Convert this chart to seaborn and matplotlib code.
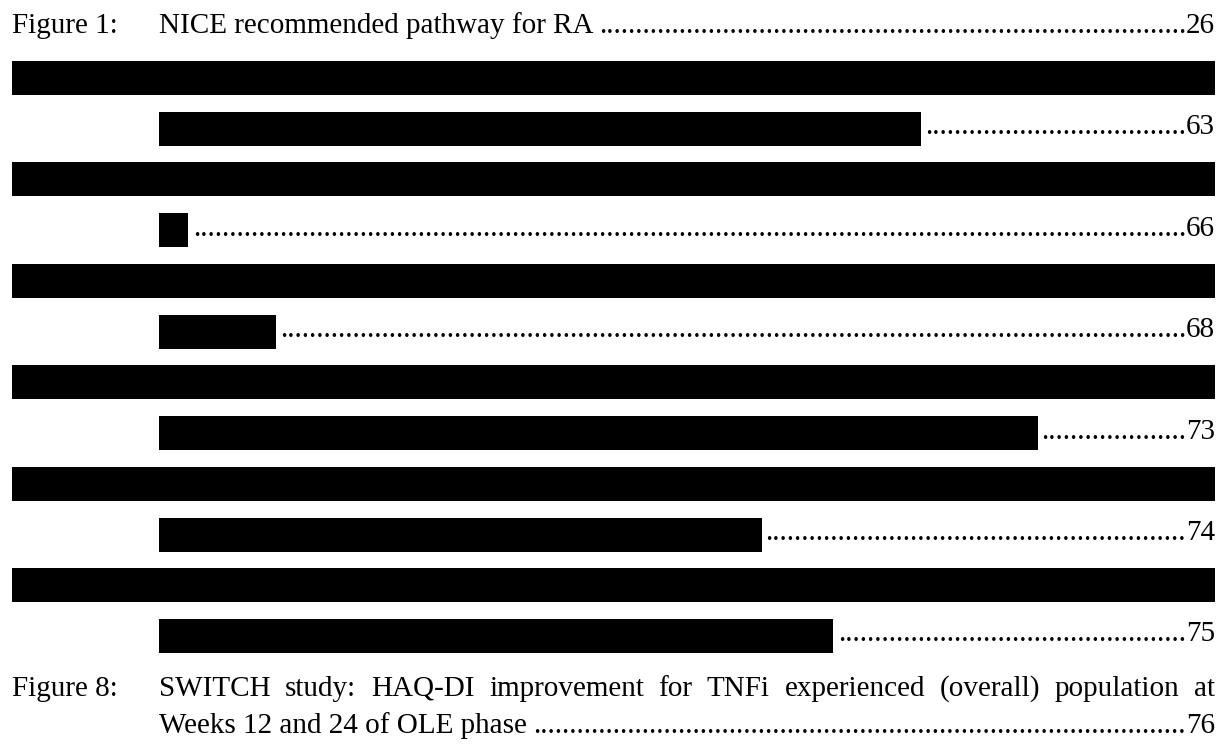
import matplotlib
matplotlib.use("Agg")
import matplotlib.pyplot as plt
import seaborn as sns

# table of figures entries
first_label = "Figure 1:"
first_title = "NICE recommended pathway for RA"
first_page = "26"

# six entries whose titles are blacked out: page number and right edge of the redaction (px)
redacted_pages = ["63", "66", "68", "73", "74", "75"]
redacted_ends = [921, 188, 276, 1038, 762, 833]

last_label = "Figure 8:"
last_title_lines = [
    "SWITCH study: HAQ-DI improvement for TNFi experienced (overall) population at",
    "Weeks 12 and 24 of OLE phase",
]
last_page = "76"

# page geometry (pixels)
W, H = 1227, 749
LEFT = 12
INDENT = 159
RIGHT = 1215
STEP = 101.4
BASE0 = 33
FULL_TOP0 = 61
IND_TOP0 = 112
BAR_H = 34
LAST_BASES = [696, 733]

sns.set_theme(style="white")
plt.rcParams["font.family"] = ["Liberation Serif", "DejaVu Serif"]
FONT = dict(fontsize=21, color="black", va="baseline")

fig = plt.figure(figsize=(W / 100, H / 100), dpi=100)
ax = fig.add_axes([0, 0, 1, 1])
ax.set_xlim(0, W)
ax.set_ylim(H, 0)
ax.set_axis_off()
fig.canvas.draw()
renderer = fig.canvas.get_renderer()


def text_width(s):
    t = ax.text(0, 0, s, **FONT)
    w = t.get_window_extent(renderer).width
    t.remove()
    return w


DOT_W = text_width("." * 100) / 100


def page_and_leader(x_start, base, page):
    ax.text(RIGHT, base, page, ha="right", **FONT)
    x_end = RIGHT - text_width(page)
    n = int((x_end - x_start) // DOT_W)
    ax.text(x_end, base, "." * n, ha="right", **FONT)


# Figure 1 row
ax.text(LEFT, BASE0, first_label, ha="left", **FONT)
ax.text(INDENT, BASE0, first_title, ha="left", **FONT)
page_and_leader(INDENT + text_width(first_title) + 4, BASE0, first_page)

# redacted rows: a full-width bar, then an indented bar with leader and page
for i, (page, end) in enumerate(zip(redacted_pages, redacted_ends)):
    full_top = FULL_TOP0 + i * STEP
    ind_top = IND_TOP0 + i * STEP
    ax.barh(full_top, RIGHT - LEFT, left=LEFT, height=BAR_H, align="edge",
            color="black", linewidth=0)
    ax.barh(ind_top, end - INDENT, left=INDENT, height=BAR_H, align="edge",
            color="black", linewidth=0)
    page_and_leader(end + 2, BASE0 + (i + 1) * STEP, page)

# Figure 8, first line justified across the column
ax.text(LEFT, LAST_BASES[0], last_label, ha="left", **FONT)
words = last_title_lines[0].split()
widths = [text_width(w) for w in words]
gap = (RIGHT - INDENT - sum(widths)) / (len(words) - 1)
x = INDENT
for w, wd in zip(words, widths):
    ax.text(x, LAST_BASES[0], w, ha="left", **FONT)
    x += wd + gap

ax.text(INDENT, LAST_BASES[1], last_title_lines[1], ha="left", **FONT)
page_and_leader(INDENT + text_width(last_title_lines[1]) + 4, LAST_BASES[1], last_page)

fig.savefig("out.png", dpi=100, facecolor="white")
